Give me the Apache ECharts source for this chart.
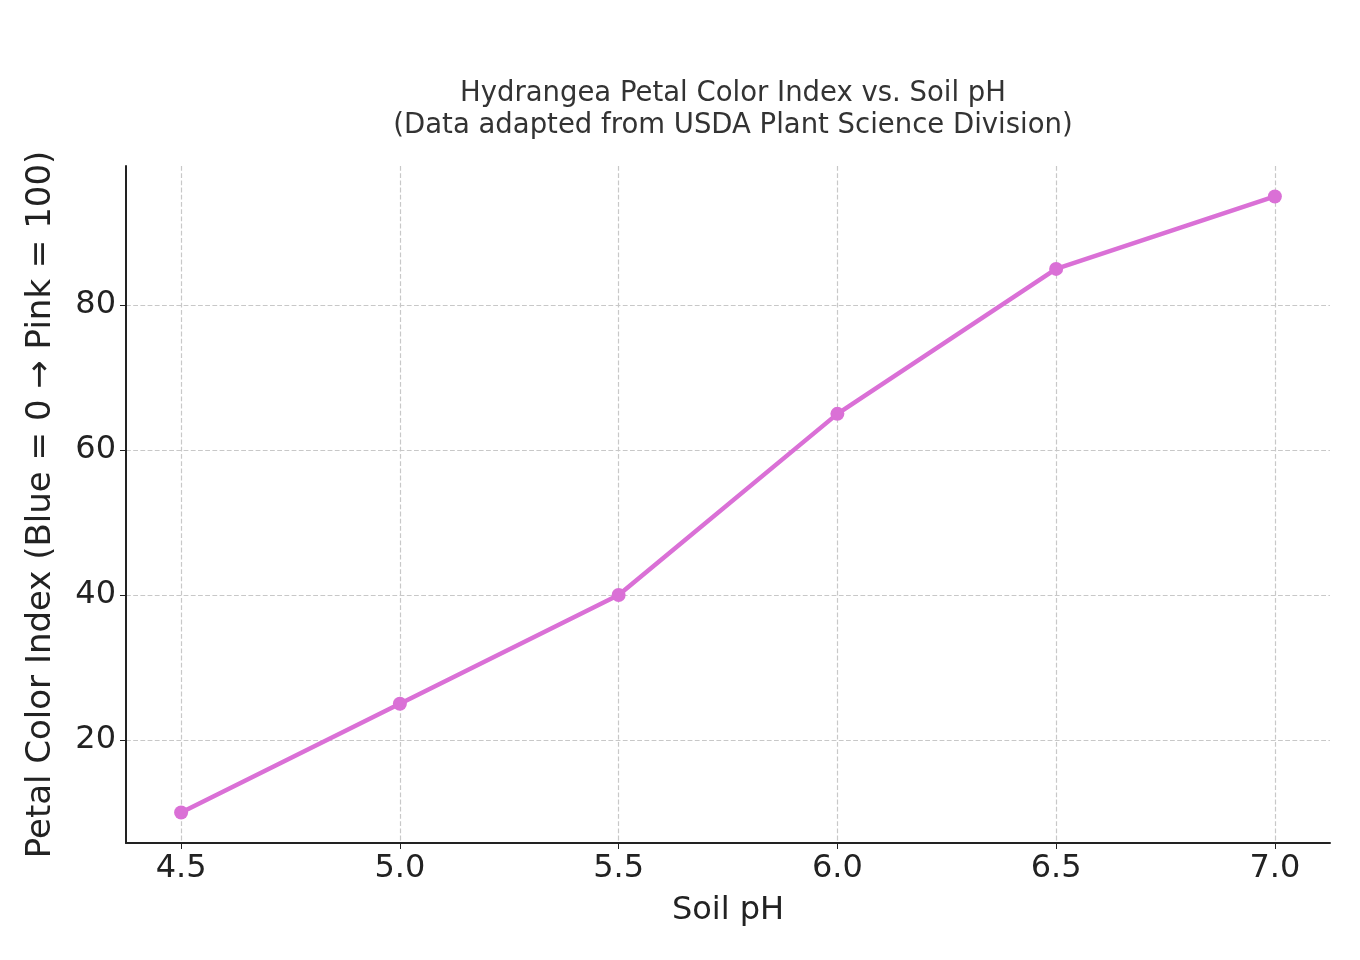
<!DOCTYPE html>
<html><head><meta charset="utf-8">
<script src="https://cdn.jsdelivr.net/npm/echarts@6/dist/echarts.min.js"></script>
<style>html,body{margin:0;background:#fff}#c{width:1360px;height:960px}</style>
</head><body><div id="c"></div>
<script>
const phValues = [4.5, 5.0, 5.5, 6.0, 6.5, 7.0];
const colorIndex = [10, 25, 40, 65, 85, 95];
const xTicks = [4.5, 5.0, 5.5, 6.0, 6.5, 7.0];
const yTicks = [20, 40, 60, 80];
const chart = echarts.init(document.getElementById('c'));
const font = 'DejaVu Sans';
chart.setOption({
  animation: false,
  title: {
    text: 'Hydrangea Petal Color Index vs. Soil pH\n(Data adapted from USDA Plant Science Division)',
    left: 728, top: 73, textAlign: 'center',
    textStyle: {fontFamily: font, fontSize: 27.5, fontWeight: 'normal', color: '#333', lineHeight: 32}
  },
  grid: {left: 126, right: 30, top: 166, bottom: 117},
  xAxis: {
    type: 'value', min: 4.374, max: 7.126,
    name: 'Soil pH', nameLocation: 'middle', nameGap: 52,
    nameTextStyle: {fontFamily: font, fontSize: 32, color: '#222'},
    axisLine: {lineStyle: {color: '#222', width: 2}},
    axisTick: {show: true, customValues: xTicks, length: 6, lineStyle: {color: '#222'}},
    axisLabel: {customValues: xTicks, fontFamily: font, fontSize: 32, color: '#222', margin: 10,
      formatter: v => v.toFixed(1)},
    splitLine: {show: true, lineStyle: {type: 'dashed', color: '#c8c8c8', width: 1.2}}
  },
  yAxis: {
    type: 'value', min: 5.79, max: 99.2,
    name: 'Petal Color Index (Blue = 0 → Pink = 100)', nameLocation: 'middle', nameGap: 68,
    nameTextStyle: {fontFamily: font, fontSize: 34, color: '#222'},
    axisLine: {show: true, lineStyle: {color: '#222', width: 2}},
    axisTick: {show: true, customValues: yTicks, length: 6, lineStyle: {color: '#222'}},
    axisLabel: {customValues: yTicks, fontFamily: font, fontSize: 32, color: '#222', margin: 10},
    splitLine: {show: true, lineStyle: {type: 'dashed', color: '#c8c8c8', width: 1.2}}
  },
  series: [{
    type: 'line',
    data: phValues.map((x, i) => [x, colorIndex[i]]),
    symbol: 'circle', symbolSize: 14,
    lineStyle: {color: '#da70d6', width: 4.5},
    itemStyle: {color: '#da70d6'}
  }]
});
</script></body></html>
